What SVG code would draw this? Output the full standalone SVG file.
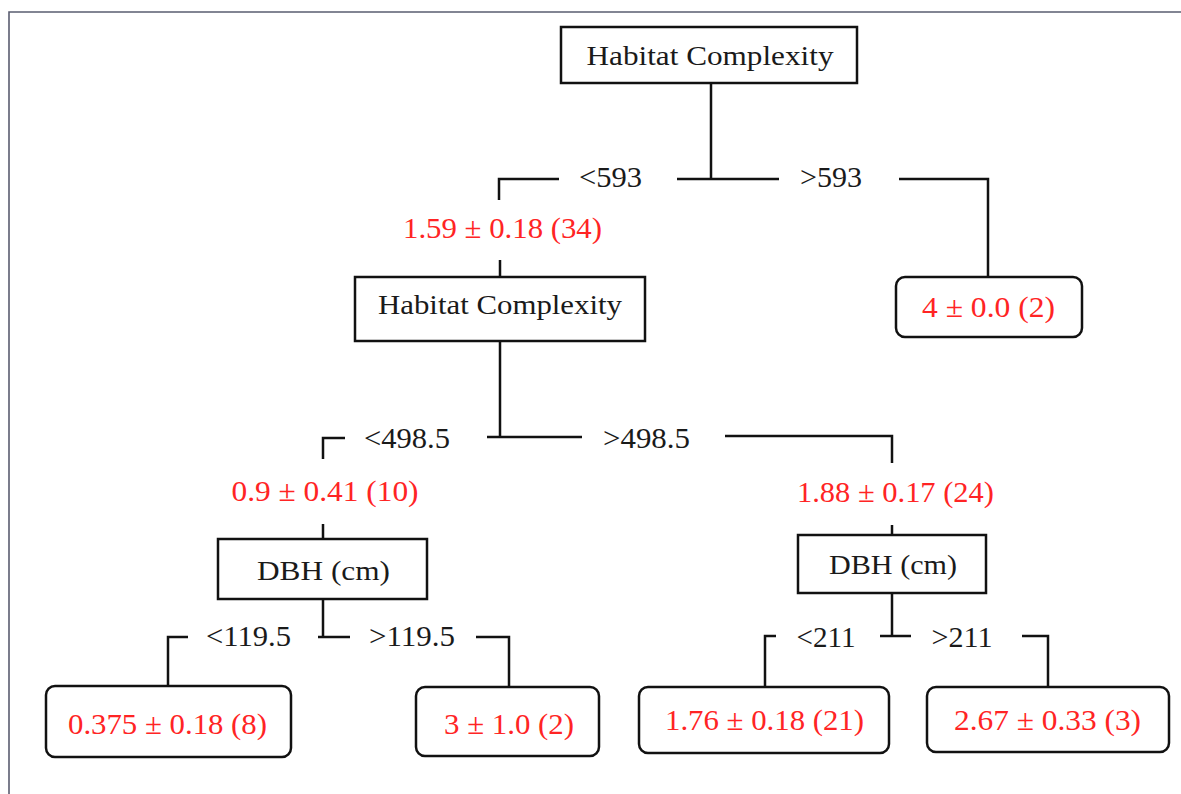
<svg xmlns="http://www.w3.org/2000/svg" width="1181" height="794" viewBox="0 0 1181 794">
<style>
.bg{fill:#ffffff}
.frame{stroke:#5a5d70;stroke-width:1.6;fill:none}
.box{fill:#ffffff;stroke:#111111;stroke-width:2.5}
.leaf{fill:#ffffff;stroke:#111111;stroke-width:2.5}
.c{stroke:#111111;stroke-width:2.5;fill:none;stroke-linecap:butt}
text{font-family:"Liberation Serif","Times New Roman",serif;text-anchor:middle}
.nm{font-size:28px;fill:#1a1a1a}
.lb{font-size:30px;fill:#1a1a1a}
.rd{font-size:30px;fill:#ff2424}
</style>
<rect class="bg" x="0" y="0" width="1181" height="794"/>
<g id="frame">
<path class="frame" d="M9,794 V12 H1181"/>
</g>
<g id="connectors">
<path class="c" d="M711,83 V179 M677,179 H779"/>
<path class="c" d="M559,179 H499 V200 M500,260 V277"/>
<path class="c" d="M899,179 H988 V277"/>
<path class="c" d="M500,341 V437 M487,437 H582"/>
<path class="c" d="M345,438 H323 V459 M323,524 V539"/>
<path class="c" d="M725,436 H892 V463 M892,525 V535"/>
<path class="c" d="M323,599 V637 M318,637 H350"/>
<path class="c" d="M188,637 H168 V686"/>
<path class="c" d="M476,637 H509 V687"/>
<path class="c" d="M892,593 V636 M880,636 H911"/>
<path class="c" d="M776,636 H765 V687"/>
<path class="c" d="M1022,636 H1048 V687"/>
</g>
<g id="labels">
<text class="lb" x="610.5" y="187" textLength="63" lengthAdjust="spacingAndGlyphs">&lt;593</text>
<text class="lb" x="831" y="187" textLength="62" lengthAdjust="spacingAndGlyphs">&gt;593</text>
<text class="lb" x="407" y="447.5" textLength="86" lengthAdjust="spacingAndGlyphs">&lt;498.5</text>
<text class="lb" x="646.5" y="447.5" textLength="87" lengthAdjust="spacingAndGlyphs">&gt;498.5</text>
<text class="lb" x="248.5" y="646" textLength="85" lengthAdjust="spacingAndGlyphs">&lt;119.5</text>
<text class="lb" x="412" y="646" textLength="86" lengthAdjust="spacingAndGlyphs">&gt;119.5</text>
<text class="lb" x="826" y="647" textLength="59" lengthAdjust="spacingAndGlyphs">&lt;211</text>
<text class="lb" x="962" y="647" textLength="61" lengthAdjust="spacingAndGlyphs">&gt;211</text>
<text class="rd" x="502.5" y="238" textLength="199" lengthAdjust="spacingAndGlyphs">1.59 ± 0.18 (34)</text>
<text class="rd" x="325" y="501" textLength="187" lengthAdjust="spacingAndGlyphs">0.9 ± 0.41 (10)</text>
<text class="rd" x="895.5" y="502" textLength="197" lengthAdjust="spacingAndGlyphs">1.88 ± 0.17 (24)</text>
</g>
<g id="root">
<rect class="box" x="561" y="27" width="296" height="56"/>
<text class="nm" x="710" y="65" textLength="247" lengthAdjust="spacingAndGlyphs">Habitat Complexity</text>
</g>
<g id="habitat2">
<rect class="box" x="355" y="277" width="290" height="64"/>
<text class="nm" x="500" y="314" textLength="244" lengthAdjust="spacingAndGlyphs">Habitat Complexity</text>
</g>
<g id="leaf-4">
<rect class="leaf" x="896" y="277" width="186" height="60" rx="9"/>
<text class="rd" x="988.5" y="317" textLength="133" lengthAdjust="spacingAndGlyphs">4 ± 0.0 (2)</text>
</g>
<g id="dbh1">
<rect class="box" x="218" y="539" width="209" height="60"/>
<text class="nm" x="323.5" y="579.5" textLength="133" lengthAdjust="spacingAndGlyphs">DBH (cm)</text>
</g>
<g id="dbh2">
<rect class="box" x="798" y="535" width="188" height="58"/>
<text class="nm" x="893" y="573.5" textLength="128" lengthAdjust="spacingAndGlyphs">DBH (cm)</text>
</g>
<g id="leaf-0375">
<rect class="leaf" x="46" y="686" width="245" height="71" rx="9"/>
<text class="rd" x="167.5" y="734" textLength="199" lengthAdjust="spacingAndGlyphs">0.375 ± 0.18 (8)</text>
</g>
<g id="leaf-3">
<rect class="leaf" x="416" y="687" width="183" height="69" rx="9"/>
<text class="rd" x="509" y="734" textLength="130" lengthAdjust="spacingAndGlyphs">3 ± 1.0 (2)</text>
</g>
<g id="leaf-176">
<rect class="leaf" x="639" y="687" width="250" height="66" rx="9"/>
<text class="rd" x="764.5" y="730" textLength="199" lengthAdjust="spacingAndGlyphs">1.76 ± 0.18 (21)</text>
</g>
<g id="leaf-267">
<rect class="leaf" x="927" y="687" width="242" height="65" rx="9"/>
<text class="rd" x="1047.5" y="730" textLength="187" lengthAdjust="spacingAndGlyphs">2.67 ± 0.33 (3)</text>
</g>
</svg>
